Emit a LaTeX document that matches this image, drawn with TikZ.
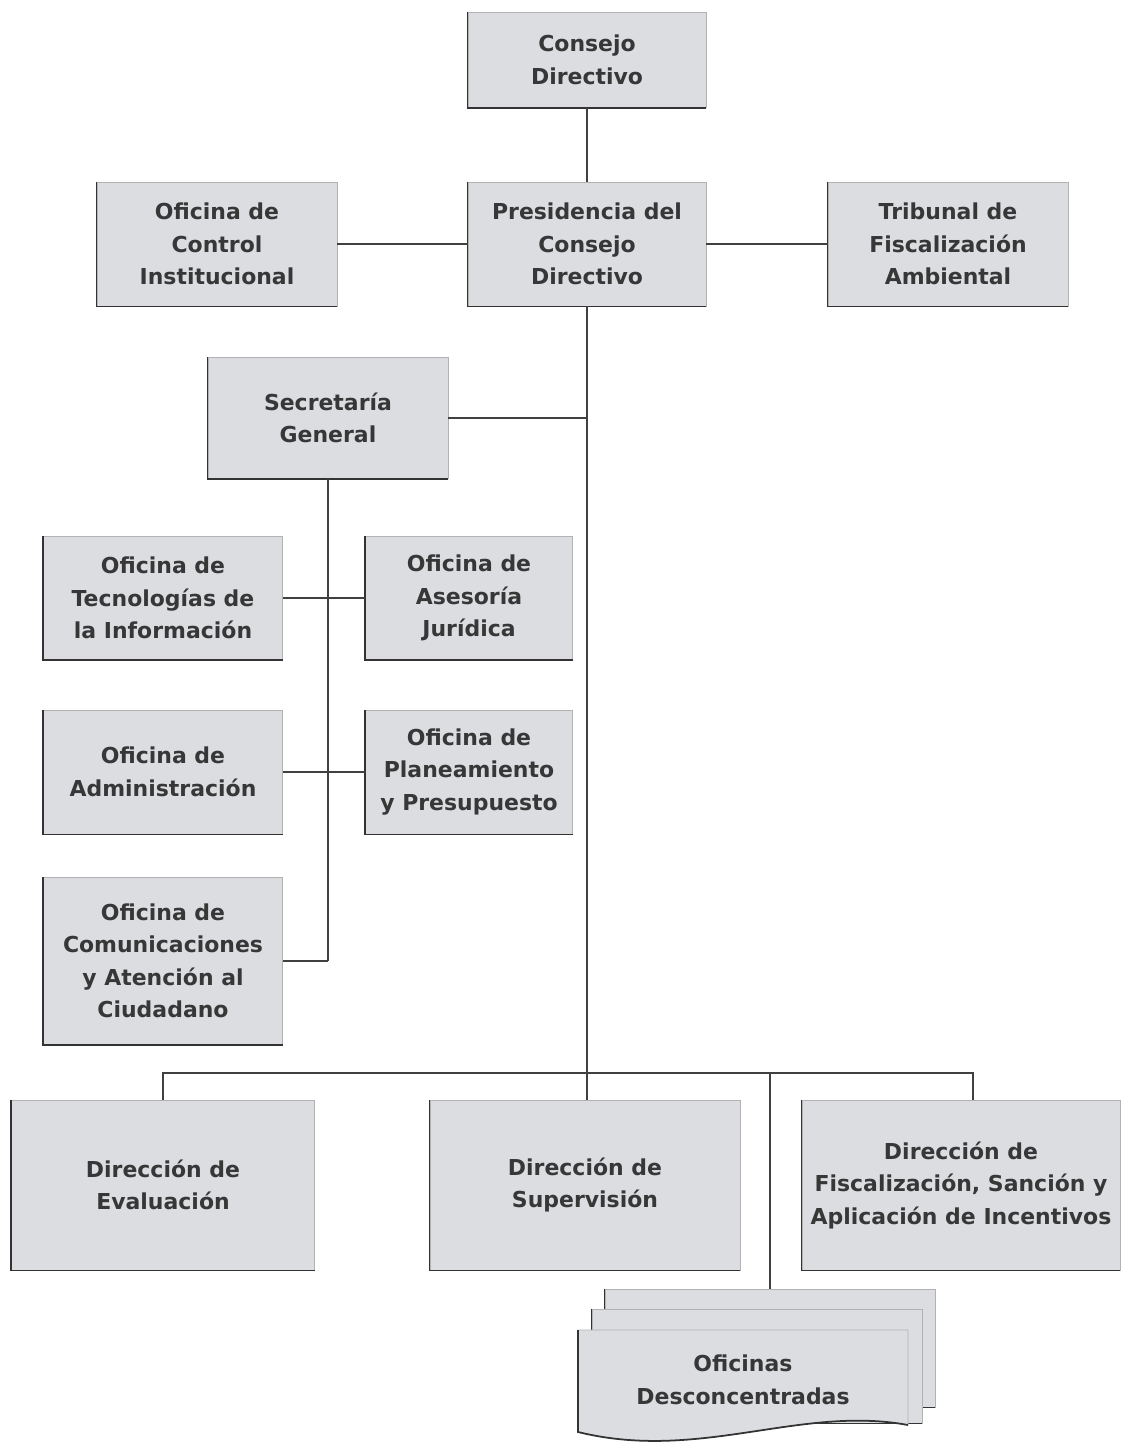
\documentclass[tikz,border=0pt]{standalone}
\usepackage{fontspec}
\setmainfont{DejaVu Sans}
\usepackage{tikz}
\usetikzlibrary{positioning}

\definecolor{boxgray}{RGB}{219,221,225}
\definecolor{linegray}{RGB}{64,64,64}
\definecolor{textgray}{RGB}{55,55,55}

\tikzset{
  unit/.style={fill=boxgray, draw=gray!60, line width=0.5pt, align=center,
    text=textgray, font=\bfseries\fontsize{12.5}{18.5}\selectfont, inner sep=2pt},
  link/.style={draw=linegray, line width=1.1pt},
  edgedark/.style={draw=gray!40!black, line width=1pt}
}

\begin{document}
\begin{tikzpicture}[x=0.02cm, y=-0.02cm]
                \useasboundingbox (0,0) rectangle (1129,1454);

                % alta direccion
                \node[unit, minimum width=4.76cm, minimum height=1.9cm] (consejo) at (587,60) {Consejo\\Directivo};
                \node[unit, minimum width=4.76cm, minimum height=2.48cm] (presid) at (587,244) {Presidencia del\\Consejo\\Directivo};
                \node[unit, minimum width=4.8cm, minimum height=2.48cm] (control) at (217,244) {Oficina de\\Control\\Institucional};
                \node[unit, minimum width=4.8cm, minimum height=2.48cm] (tribunal) at (948,244) {Tribunal de\\Fiscalización\\Ambiental};

                % secretaria general
                \node[unit, minimum width=4.8cm, minimum height=2.42cm] (secret) at (328,418) {Secretaría\\General};
                \node[unit, minimum width=4.78cm, minimum height=2.46cm] (tecno) at (163,598) {Oficina de\\Tecnologías de\\la Información};
                \node[unit, minimum width=4.14cm, minimum height=2.46cm] (asesor) at (469,598) {Oficina de\\Asesoría\\Jurídica};
                \node[unit, minimum width=4.78cm, minimum height=2.48cm] (admin) at (163,772) {Oficina de\\Administración};
                \node[unit, minimum width=4.14cm, minimum height=2.48cm] (planea) at (469,772) {Oficina de\\Planeamiento\\y Presupuesto};
                \node[unit, minimum width=4.78cm, minimum height=3.34cm] (comun) at (163,961) {Oficina de\\Comunicaciones\\y Atención al\\Ciudadano};

                % organos de linea
                \node[unit, minimum width=6.06cm, minimum height=3.4cm] (evalua) at (163,1185) {Dirección de\\Evaluación};
                \node[unit, minimum width=6.2cm, minimum height=3.4cm] (superv) at (585,1185) {Dirección de\\Supervisión};
                \node[unit, minimum width=6.36cm, minimum height=3.4cm] (fisca) at (961,1185) {Dirección de\\Fiscalización, Sanción y\\Aplicación de Incentivos};

                % bordes oscuros
                \foreach \n in {consejo,presid,control,tribunal,secret,tecno,asesor,admin,planea,comun,evalua,superv,fisca}
                  \draw[edgedark] (\n.north west) -- (\n.south west) -- (\n.south east);

                % oficinas desconcentradas
                \node[unit, minimum width=6.6cm, minimum height=2.36cm] (ofiback) at (770,1348) {};
                \draw[edgedark] (ofiback.north west) -- (ofiback.south west) -- (ofiback.south east);
                \node[unit, minimum width=6.6cm, minimum height=2.28cm] (ofimid) at (757,1366) {};
                \draw[edgedark] (ofimid.north west) -- (ofimid.south west) -- (ofimid.south east);
                \draw[fill=boxgray, draw=gray!60, line width=0.5pt] (578,1330) -- (908,1330)
                -- (908,1425) .. controls (800,1405) and (700,1462) .. (578,1432)
                -- cycle;
                \draw[edgedark] (578,1330) -- (578,1432) .. controls (700,1462) and (800,1405) .. (908,1425);
                \node[align=center, text=textgray, font=\bfseries\fontsize{12.5}{18.5}\selectfont] (ofifront) at (743,1380) {Oficinas\\Desconcentradas};

                % conectores
                \coordinate (bus) at (587,1073);
                \draw[link] (consejo) -- (presid);
                \draw[link] (control) -- (presid);
                \draw[link] (presid) -- (tribunal);
                \draw[link] (presid.south) -- (superv.north -| presid.south);
                \draw[link] (secret.east) -- (secret.east -| presid.south);
                \draw[link] (secret.south) -- (secret.south |- comun.east);
                \draw[link] (comun.east) -- (comun.east -| secret.south);
                \draw[link] (tecno) -- (asesor);
                \draw[link] (admin) -- (planea);
                \draw[link] (evalua.north) |- (bus) -| ([xshift=7]fisca.north);
                \draw[link] (ofiback.north) -- (ofiback.north |- bus);
            \end{tikzpicture}
\end{document}
